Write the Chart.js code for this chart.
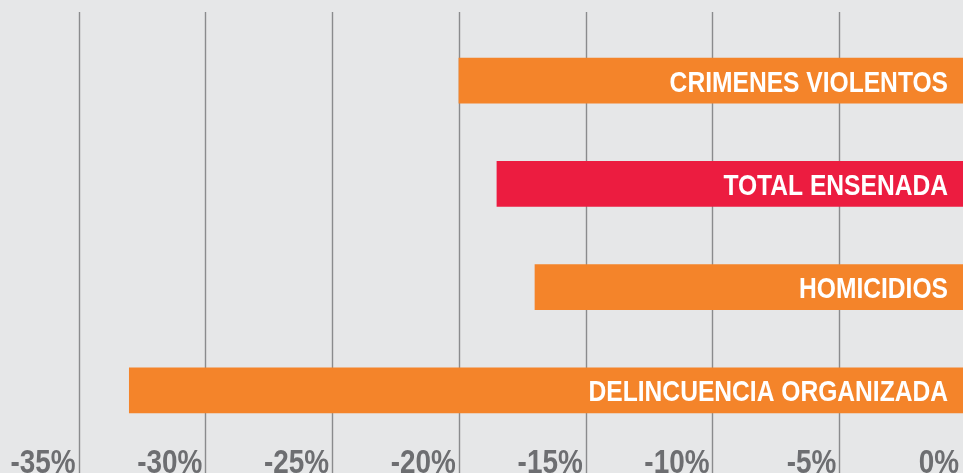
<!DOCTYPE html>
<html>
<head>
<meta charset="utf-8">
<script src="https://cdn.jsdelivr.net/npm/chart.js@4/dist/chart.umd.min.js"></script>
<style>
  html, body { margin: 0; padding: 0; background: #e6e7e8; overflow: hidden; }
  #wrap { width: 967px; height: 473px; }
</style>
</head>
<body>
<div id="wrap"><canvas id="chart" width="967" height="473"></canvas></div>
<script>
const categories = ["CRIMENES VIOLENTOS", "TOTAL ENSENADA", "HOMICIDIOS", "DELINCUENCIA ORGANIZADA"];
const changes = [-20.0, -18.5, -17.0, -33.0];
const barColors = ["#f4842a", "#ec1c40", "#f4842a", "#f4842a"];
const tickValues = [-35, -30, -25, -20, -15, -10, -5, 0];

const FONT = "'Liberation Sans', Arial, sans-serif";
const NARROW = 0.82; // squeeze a regular face into a condensed one

function narrowText(ctx, text, xRight, yBase) {
  ctx.save();
  ctx.translate(xRight, yBase);
  ctx.scale(NARROW, 1);
  ctx.textAlign = "right";
  ctx.textBaseline = "alphabetic";
  ctx.fillText(text, 0, 0);
  ctx.restore();
}

// vertical grid lines that run past the plot area, from top of picture to bottom
const gridPlugin = {
  id: "tallGrid",
  beforeDatasetsDraw(chart) {
    const { ctx, scales } = chart;
    const x = scales.x;
    ctx.save();
    ctx.strokeStyle = "#8a8b8d";
    ctx.lineWidth = 1.4;
    tickValues.forEach((v) => {
      const px = Math.round(x.getPixelForValue(v)) + 0.5;
      ctx.beginPath();
      ctx.moveTo(px, 12);
      ctx.lineTo(px, chart.height);
      ctx.stroke();
    });
    ctx.restore();
  },
};

// category names inside the bars and percent labels under the grid lines
const labelPlugin = {
  id: "labels",
  afterDatasetsDraw(chart) {
    const { ctx, scales } = chart;
    const meta = chart.getDatasetMeta(0);
    ctx.save();
    ctx.fillStyle = "#ffffff";
    ctx.font = "bold 30px " + FONT;
    meta.data.forEach((bar, i) => {
      narrowText(ctx, categories[i], bar.base - 18, bar.y + 11);
    });
    ctx.fillStyle = "#6d6e71";
    ctx.font = "bold 34px " + FONT;
    tickValues.forEach((v) => {
      const right = Math.min(scales.x.getPixelForValue(v) - 3, 959);
      narrowText(ctx, v + "%", right, 473);
    });
    ctx.restore();
  },
};

new Chart(document.getElementById("chart"), {
  type: "bar",
  data: {
    labels: categories,
    datasets: [{
      data: changes,
      backgroundColor: barColors,
      borderWidth: 0,
      barThickness: 45,
    }],
  },
  options: {
    indexAxis: "y",
    responsive: false,
    animation: false,
    layout: { padding: { top: 29, left: 0, right: 1, bottom: 0 } },
    plugins: { legend: { display: false }, tooltip: { enabled: false } },
    scales: {
      y: { display: false },
      x: {
        min: -38.1,
        max: 0,
        grid: { display: false, drawTicks: false },
        border: { display: false },
        afterBuildTicks: (scale) => { scale.ticks = tickValues.map((v) => ({ value: v })); },
        afterFit: (scale) => { scale.height = 31; },
        ticks: { display: false },
      },
    },
  },
  plugins: [gridPlugin, labelPlugin],
});
</script>
</body>
</html>
